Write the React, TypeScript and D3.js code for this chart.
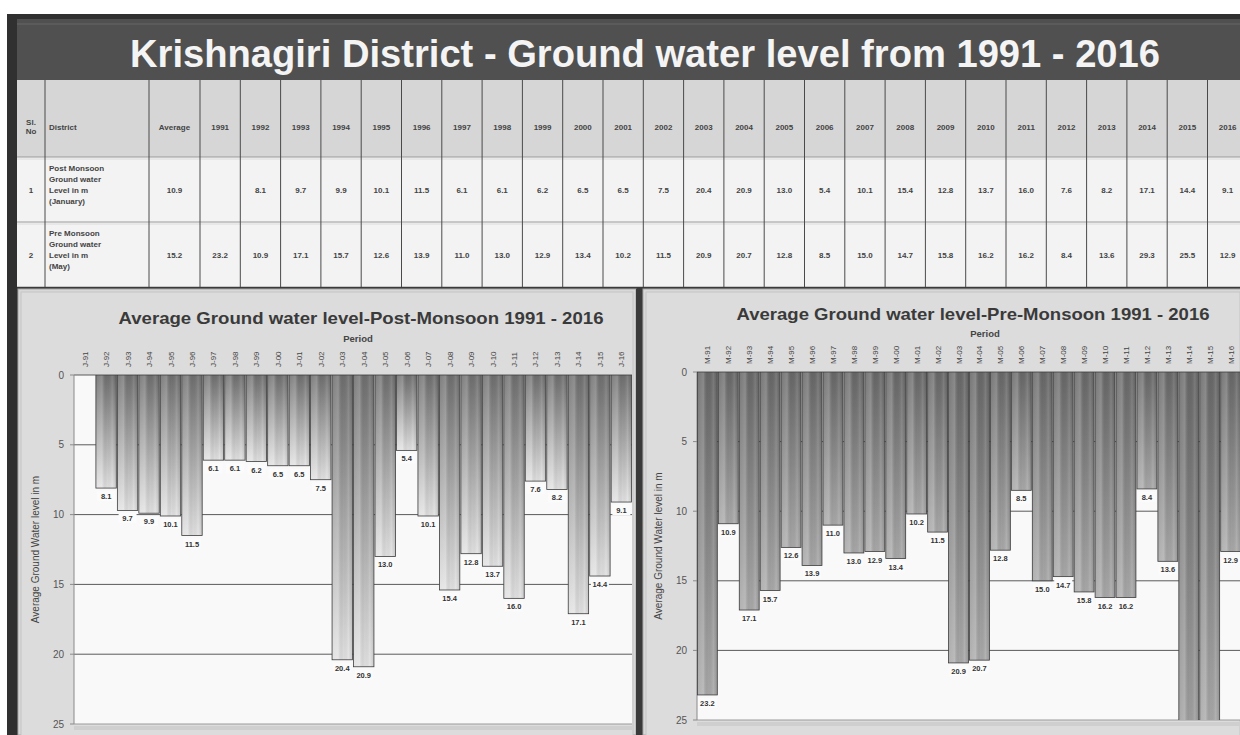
import React from "react";
import * as d3 from "d3";

// Year columns of the table and the category axis of both charts
const years = [
  "1991", "1992", "1993", "1994", "1995", "1996", "1997", "1998", "1999", "2000",
  "2001", "2002", "2003", "2004", "2005", "2006", "2007", "2008", "2009", "2010",
  "2011", "2012", "2013", "2014", "2015", "2016",
];

// Post monsoon (January) ground water level in m; 1991 not measured
const postMonsoon: (number | null)[] = [
  null, 8.1, 9.7, 9.9, 10.1, 11.5, 6.1, 6.1, 6.2, 6.5,
  6.5, 7.5, 20.4, 20.9, 13.0, 5.4, 10.1, 15.4, 12.8, 13.7,
  16.0, 7.6, 8.2, 17.1, 14.4, 9.1,
];

// Pre monsoon (May) ground water level in m
const preMonsoon: (number | null)[] = [
  23.2, 10.9, 17.1, 15.7, 12.6, 13.9, 11.0, 13.0, 12.9, 13.4,
  10.2, 11.5, 20.9, 20.7, 12.8, 8.5, 15.0, 14.7, 15.8, 16.2,
  16.2, 8.4, 13.6, 29.3, 25.5, 12.9,
];

const postAverage = "10.9";
const preAverage = "15.2";

const postLabels = years.map((y) => `J-${y.slice(2)}`);
const preLabels = years.map((y) => `M-${y.slice(2)}`);

const depthTicks = [0, 5, 10, 15, 20, 25];

const tableRows = [
  { sl: "1", lines: ["Post Monsoon", "Ground water", "Level in m", "(January)"], avg: postAverage, values: postMonsoon },
  { sl: "2", lines: ["Pre Monsoon", "Ground water", "Level in m", "(May)"], avg: preAverage, values: preMonsoon },
];

const FONT = "'Liberation Sans', Arial, Helvetica, sans-serif";

type PanelProps = {
  id: string;
  title: string;
  titleWidth: number;
  labels: string[];
  values: (number | null)[];
  panelX: number;
  panelW: number;
  plotX0: number;
  plotX1: number;
  y0: number;
  y25: number;
  titleX: number;
  titleY: number;
  periodX: number;
  periodY: number;
  yLabelX: number;
  topColor: string;
  bottomColor: string;
};

function BarPanel(p: PanelProps) {
  const x = d3.scaleBand<string>().domain(p.labels).range([p.plotX0, p.plotX1]).paddingInner(0.05).paddingOuter(0.02);
  const y = d3.scaleLinear().domain([0, 25]).range([p.y0, p.y25]);
  const top = 289;
  const clipId = `${p.id}-clip`;
  const gradV = `${p.id}-v`;
  const gradH = `${p.id}-h`;
  return (
    <g>
      <defs>
        <linearGradient id={gradV} x1="0" y1="0" x2="0" y2="1">
          <stop offset="0" stopColor={p.topColor} />
          <stop offset="1" stopColor={p.bottomColor} />
        </linearGradient>
        <linearGradient id={gradH} x1="0" y1="0" x2="1" y2="0">
          <stop offset="0" stopColor="#ffffff" stopOpacity="0.10" />
          <stop offset="0.3" stopColor="#ffffff" stopOpacity="0.22" />
          <stop offset="0.55" stopColor="#000000" stopOpacity="0.02" />
          <stop offset="0.8" stopColor="#ffffff" stopOpacity="0.12" />
          <stop offset="1" stopColor="#000000" stopOpacity="0.10" />
        </linearGradient>
        <clipPath id={clipId}>
          <rect x={p.plotX0} y={p.y0} width={p.plotX1 - p.plotX0} height={p.y25 - p.y0} />
        </clipPath>
      </defs>
      {/* panel background */}
      <rect x={p.panelX} y={top} width={p.panelW} height={735 - top} fill="#d8d8d8" stroke="#a8a8a8" />
      <rect x={p.panelX + 3} y={top + 3} width={p.panelW - 6} height={735 - top} fill="#dcdcdc" stroke="#c4c4c4" />
      {/* plot area */}
      <rect x={p.plotX0} y={p.y0} width={p.plotX1 - p.plotX0} height={p.y25 - p.y0} fill="#f9f9f9" />
      <rect x={p.plotX0} y={p.y25 + 2} width={p.plotX1 - p.plotX0} height={4} fill="#cfcfcf" />
      {/* titles */}
      <text
        x={p.titleX}
        y={p.titleY}
        textAnchor="middle"
        fontFamily={FONT}
        fontWeight="bold"
        fontSize={17}
        fill="#3a3a3a"
        textLength={p.titleWidth}
        lengthAdjust="spacingAndGlyphs"
      >
        {p.title}
      </text>
      <text x={p.periodX} y={p.periodY} textAnchor="middle" fontFamily={FONT} fontWeight="bold" fontSize={9.5} fill="#444">
        Period
      </text>
      {/* grid lines */}
      {depthTicks.map((t) => (
        <line key={t} x1={p.plotX0} x2={p.plotX1} y1={y(t)} y2={y(t)} stroke={t === 25 ? "#9a9a9a" : "#5a5a5a"} strokeWidth={1} />
      ))}
      {/* depth axis */}
      <line x1={p.plotX0} x2={p.plotX0} y1={p.y0} y2={p.y25} stroke="#8a8a8a" />
      {depthTicks.map((t) => (
        <g key={t}>
          <line x1={p.plotX0 - 4} x2={p.plotX0} y1={y(t)} y2={y(t)} stroke="#8a8a8a" />
          <text x={p.plotX0 - 10} y={y(t) + 3.5} textAnchor="end" fontFamily={FONT} fontSize={10} fill="#555">
            {t}
          </text>
        </g>
      ))}
      <text
        transform={`translate(${p.yLabelX},${(p.y0 + p.y25) / 2}) rotate(-90)`}
        textAnchor="middle"
        fontFamily={FONT}
        fontSize={10}
        fill="#444"
      >
        Average Ground Water level in m
      </text>
      {/* category labels on top */}
      {p.labels.map((l) => {
        const cx = (x(l) ?? 0) + x.bandwidth() / 2;
        return (
          <text
            key={l}
            transform={`translate(${cx + 3},${p.y0 - 8}) rotate(-90)`}
            textAnchor="start"
            fontFamily={FONT}
            fontSize={8}
            fill="#444"
          >
            {l}
          </text>
        );
      })}
      {/* bars hanging from the surface */}
      <g clipPath={`url(#${clipId})`}>
        {p.values.map((v, i) => {
          if (v == null) return null;
          const bx = x(p.labels[i]) ?? 0;
          const h = y(v) - y(0);
          return (
            <g key={i}>
              <rect x={bx} y={y(0)} width={x.bandwidth()} height={h} fill={`url(#${gradV})`} />
              <rect x={bx} y={y(0)} width={x.bandwidth()} height={h} fill={`url(#${gradH})`} stroke="#3c3c3c" strokeWidth={0.8} />
            </g>
          );
        })}
      </g>
      {/* value labels */}
      {p.values.map((v, i) => {
        if (v == null || v > 25) return null;
        const cx = (x(p.labels[i]) ?? 0) + x.bandwidth() / 2;
        return (
          <g key={i}>
            <rect x={cx - 9} y={y(v) + 3} width={18} height={10} fill="#fbfbfb" />
            <text x={cx} y={y(v) + 11} textAnchor="middle" fontFamily={FONT} fontWeight="bold" fontSize={7.5} fill="#333">
              {v.toFixed(1)}
            </text>
          </g>
        );
      })}
    </g>
  );
}

export default function App() {
  const colX = [17, 45, 149, 200];
  const yearW = 40.3;
  const yearX = years.map((_, i) => 200 + i * yearW);
  const rowY = [80, 157, 222, 287];
  const cell = { fontFamily: FONT, fontWeight: "bold" as const, fontSize: 8, fill: "#444" };
  return (
    <svg width={1240} height={735} style={{ position: "absolute", left: 0, top: 0, background: "#ffffff" }}>
      {/* outer dark frame and title bar */}
      <rect x={7} y={14} width={1233} height={721} fill="#303030" />
      <rect x={17} y={19} width={1223} height={61} fill="#505050" />
      <line x1={17} x2={1240} y1={24} y2={24} stroke="#666" />
      <text
        x={645}
        y={67}
        textAnchor="middle"
        fontFamily={FONT}
        fontWeight="bold"
        fontSize={38}
        fill="#f4f4f4"
        textLength={1030}
        lengthAdjust="spacingAndGlyphs"
      >
        Krishnagiri District - Ground water level from 1991 - 2016
      </text>

      {/* table */}
      <rect x={17} y={rowY[0]} width={1223} height={rowY[1] - rowY[0]} fill="#d6d6d6" />
      <rect x={17} y={rowY[1]} width={1223} height={rowY[3] - rowY[1]} fill="#f3f3f3" />
      {rowY.slice(1).map((ry) => (
        <g key={ry}>
          <line x1={17} x2={1240} y1={ry} y2={ry} stroke="#9a9a9a" />
          <line x1={17} x2={1240} y1={ry + 2} y2={ry + 2} stroke="#dcdcdc" />
        </g>
      ))}
      {[...colX.slice(1), ...yearX.slice(1)].map((cx, i) => (
        <line key={i} x1={cx} x2={cx} y1={rowY[0]} y2={rowY[3]} stroke="#4a4a4a" />
      ))}
      <text x={31} y={125} textAnchor="middle" {...cell}>Sl.</text>
      <text x={31} y={134} textAnchor="middle" {...cell}>No</text>
      <text x={49} y={130} {...cell}>District</text>
      <text x={174.5} y={130} textAnchor="middle" {...cell}>Average</text>
      {years.map((yr, i) => (
        <text key={yr} x={yearX[i] + yearW / 2} y={130} textAnchor="middle" {...cell}>
          {yr}
        </text>
      ))}
      {tableRows.map((r, ri) => {
        const top = rowY[ri + 1];
        const mid = (top + rowY[ri + 2]) / 2;
        return (
          <g key={r.sl}>
            <text x={31} y={mid + 3} textAnchor="middle" {...cell}>{r.sl}</text>
            {r.lines.map((ln, li) => (
              <text key={li} x={49} y={top + 14 + li * 11} {...cell}>
                {ln}
              </text>
            ))}
            <text x={174.5} y={mid + 3} textAnchor="middle" {...cell}>{r.avg}</text>
            {r.values.map((v, i) =>
              v == null ? null : (
                <text key={i} x={yearX[i] + yearW / 2} y={mid + 3} textAnchor="middle" {...cell}>
                  {v.toFixed(1)}
                </text>
              )
            )}
          </g>
        );
      })}

      {/* chart panels */}
      <rect x={17} y={287} width={1223} height={3} fill="#3a3a3a" />
      <BarPanel
        id="post"
        title="Average Ground water level-Post-Monsoon 1991 - 2016"
        titleWidth={485}
        labels={postLabels}
        values={postMonsoon}
        panelX={18}
        panelW={618}
        plotX0={74}
        plotX1={632}
        y0={375}
        y25={724}
        titleX={361}
        titleY={324}
        periodX={358}
        periodY={342}
        yLabelX={39}
        topColor="#6e6e6e"
        bottomColor="#e2e2e2"
      />
      <rect x={636} y={289} width={7} height={446} fill="#3a3a3a" />
      <BarPanel
        id="pre"
        title="Average Ground water level-Pre-Monsoon 1991 - 2016"
        titleWidth={473}
        labels={preLabels}
        values={preMonsoon}
        panelX={643}
        panelW={600}
        plotX0={697}
        plotX1={1241}
        y0={372}
        y25={720}
        titleX={973}
        titleY={320}
        periodX={985}
        periodY={337}
        yLabelX={662}
        topColor="#676767"
        bottomColor="#a9a9a9"
      />
    </svg>
  );
}
